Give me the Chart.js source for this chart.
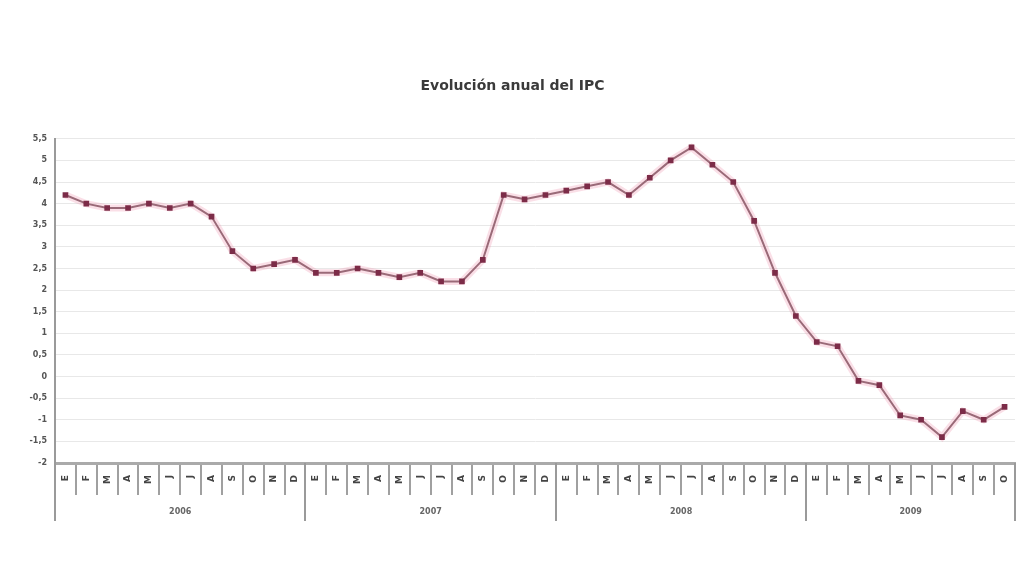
<!DOCTYPE html>
<html>
<head>
<meta charset="utf-8">
<script src="https://cdn.jsdelivr.net/npm/chart.js@4/dist/chart.umd.min.js"></script>
<style>
  body { margin: 0; background: #fff; }
  #wrap { width: 1028px; height: 572px; }
</style>
</head>
<body>
<div id="wrap"><canvas id="myChart" width="1028" height="572"></canvas></div>
<script>
// meses y años del eje
var months = ['E', 'F', 'M', 'A', 'M', 'J', 'J', 'A', 'S', 'O', 'N', 'D'];
var years = ['2006', '2007', '2008', '2009'];

// IPC anual (%)
var ipc2006 = [4.2, 4.0, 3.9, 3.9, 4.0, 3.9, 4.0, 3.7, 2.9, 2.5, 2.6, 2.7];
var ipc2007 = [2.4, 2.4, 2.5, 2.4, 2.3, 2.4, 2.2, 2.2, 2.7, 4.2, 4.1, 4.2];
var ipc2008 = [4.3, 4.4, 4.5, 4.2, 4.6, 5.0, 5.3, 4.9, 4.5, 3.6, 2.4, 1.4];
var ipc2009 = [0.8, 0.7, -0.1, -0.2, -0.9, -1.0, -1.4, -0.8, -1.0, -0.7];

var yTicks = [5.5, 5, 4.5, 4, 3.5, 3, 2.5, 2, 1.5, 1, 0.5, 0, -0.5, -1, -1.5, -2];

var series = [ipc2006, ipc2007, ipc2008, ipc2009];
var labels = [];
var values = [];
var yearStart = [];
series.forEach(function (yearData) {
    yearStart.push(labels.length);
    yearData.forEach(function (v, i) {
        labels.push(months[i]);
        values.push(v);
    });
});
yearStart.push(labels.length);

var yearAxis = {
    id: 'yearAxis',
    afterDraw: function (chart) {
        var ctx = chart.ctx;
        var x = chart.scales.x;
        var top = chart.chartArea.bottom;
        ctx.save();
        ctx.strokeStyle = '#9a9a9a';
        ctx.lineWidth = 2;
        yearStart.forEach(function (idx) {
            var px = Math.round(x.getPixelForValue(idx - 0.5));
            ctx.beginPath();
            ctx.moveTo(px, top);
            ctx.lineTo(px, top + 58);
            ctx.stroke();
        });
        ctx.fillStyle = '#666';
        ctx.font = 'bold 8px "DejaVu Sans"';
        ctx.textAlign = 'center';
        ctx.textBaseline = 'middle';
        years.forEach(function (yr, i) {
            var a = x.getPixelForValue(yearStart[i] - 0.5);
            var b = x.getPixelForValue(yearStart[i + 1] - 0.5);
            ctx.fillText(yr, (a + b) / 2, top + 49);
        });
        ctx.restore();
    }
};

var ctx = document.getElementById('myChart').getContext('2d');
var myChart = new Chart(ctx, {
    type: 'line',
    data: {
        labels: labels,
        datasets: [{
            label: 'IPC',
            data: values,
            borderColor: '#9a6a78',
            borderWidth: 2,
            pointStyle: 'rect',
            pointRadius: 4,
            pointBackgroundColor: '#7c2c48',
            pointBorderColor: '#7c2c48',
            pointBorderWidth: 0,
            tension: 0,
            order: 1
        }, {
            label: 'halo',
            data: values,
            borderColor: 'rgba(240, 150, 175, 0.3)',
            borderWidth: 7,
            pointRadius: 0,
            tension: 0,
            order: 2
        }]
    },
    options: {
        responsive: false,
        animation: false,
        layout: {
            padding: { left: 10, right: 13, top: 0, bottom: 49 }
        },
        plugins: {
            legend: { display: false },
            tooltip: { enabled: false },
            title: {
                display: true,
                text: 'Evolución anual del IPC',
                color: '#3a3a3a',
                font: { family: '"DejaVu Sans"', size: 14, weight: 'bold' },
                padding: { top: 78, bottom: 44 }
            }
        },
        scales: {
            x: {
                type: 'category',
                offset: true,
                grid: {
                    drawOnChartArea: false,
                    offset: true,
                    tickLength: 32,
                    color: '#a0a0a0',
                    lineWidth: 2
                },
                border: { display: true, color: '#aaaaaa', width: 3 },
                ticks: {
                    autoSkip: false,
                    maxRotation: 90,
                    minRotation: 90,
                    padding: -20,
                    color: '#444',
                    font: { family: '"DejaVu Sans"', size: 9, weight: 'bold' }
                },
                afterFit: function (scale) { scale.height = 60; }
            },
            y: {
                min: -2,
                max: 5.5,
                afterBuildTicks: function (scale) {
                    scale.ticks = yTicks.map(function (v) { return { value: v }; });
                },
                afterFit: function (scale) { scale.width = 45; },
                grid: { color: '#e8e8e8', lineWidth: 1, drawTicks: false },
                border: { display: true, color: '#9a9a9a', width: 2 },
                ticks: {
                    padding: 8,
                    color: '#555',
                    font: { family: '"DejaVu Sans"', size: 8, weight: 'bold' },
                    callback: function (v) { return String(v).replace('.', ','); }
                }
            }
        }
    },
    plugins: [yearAxis]
});
</script>
</body>
</html>
